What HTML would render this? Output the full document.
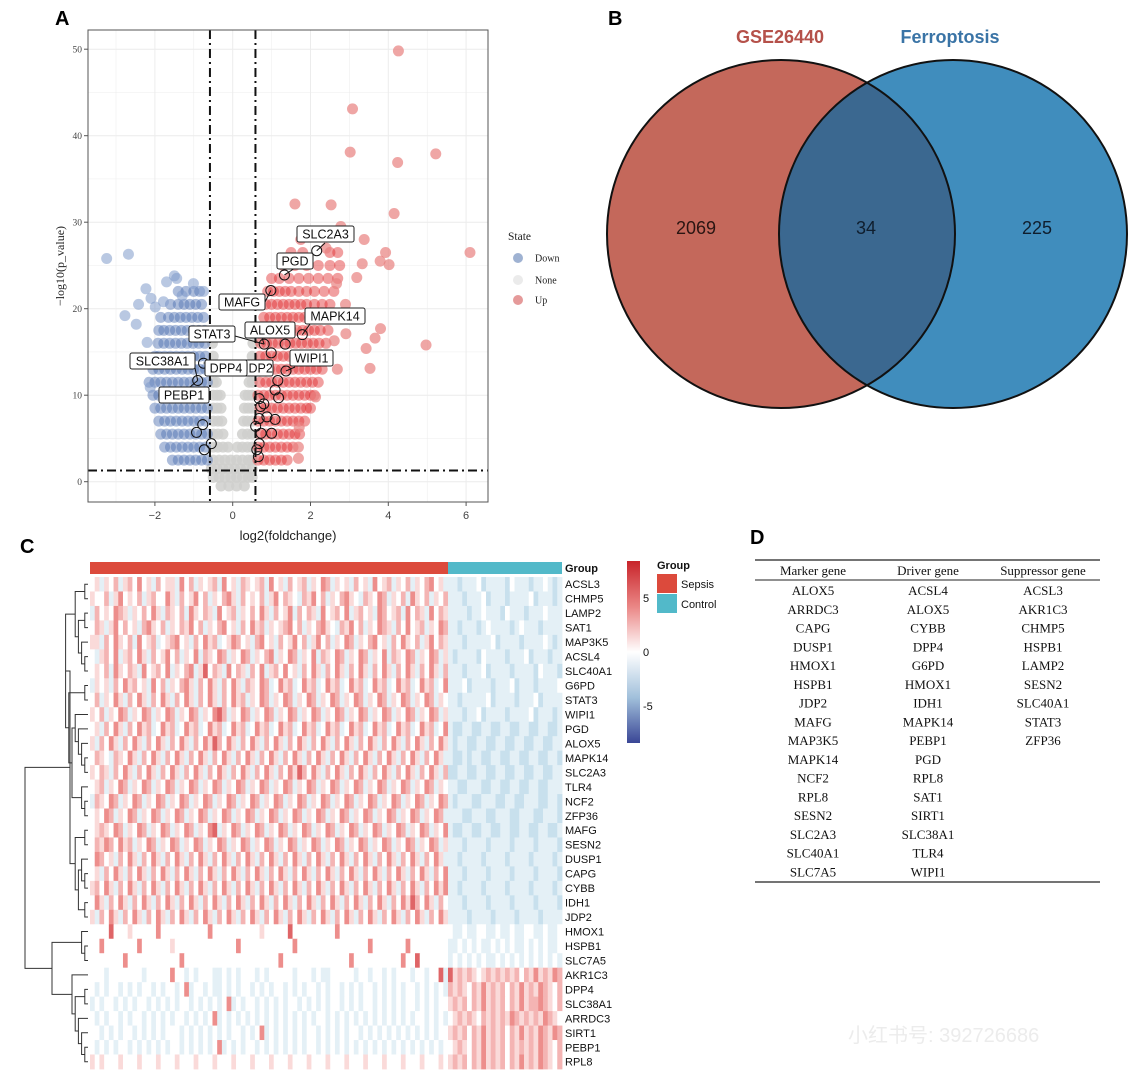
<!DOCTYPE html>
<html><head><meta charset="utf-8"><style>
html,body{margin:0;padding:0;background:#fff;}
svg{display:block;}
.sans{font-family:"Liberation Sans",Arial,sans-serif;}
.serif{font-family:"Liberation Serif","Times New Roman",serif;}
</style></head><body>
<svg id="fig" width="1130" height="1080" viewBox="0 0 1130 1080" xmlns="http://www.w3.org/2000/svg">
<rect width="1130" height="1080" fill="#fff"/>
<text x="55" y="25" class="sans" font-size="20" font-weight="bold">A</text>
<text x="608" y="25" class="sans" font-size="20" font-weight="bold">B</text>
<text x="20" y="553" class="sans" font-size="20" font-weight="bold">C</text>
<text x="750" y="544" class="sans" font-size="20" font-weight="bold">D</text>

<g id="volcano"></g>
<g id="venn">
  <circle cx="781" cy="234" r="174" fill="#c4685b"/>
  <circle cx="953" cy="234" r="174" fill="#408dbd"/>
  <clipPath id="clipL"><circle cx="781" cy="234" r="174"/></clipPath>
  <circle cx="953" cy="234" r="174" fill="#3b6890" clip-path="url(#clipL)"/>
  <circle cx="781" cy="234" r="174" fill="none" stroke="#111" stroke-width="2"/>
  <circle cx="953" cy="234" r="174" fill="none" stroke="#111" stroke-width="2"/>
  <text x="780" y="43" text-anchor="middle" class="sans" font-size="18" font-weight="bold" fill="#b5514a">GSE26440</text>
  <text x="950" y="43" text-anchor="middle" class="sans" font-size="18" font-weight="bold" fill="#3a74a6">Ferroptosis</text>
  <text x="696" y="234" text-anchor="middle" class="sans" font-size="18" fill="#2a1512">2069</text>
  <text x="866" y="234" text-anchor="middle" class="sans" font-size="18" fill="#0f1e2e">34</text>
  <text x="1037" y="234" text-anchor="middle" class="sans" font-size="18" fill="#0f1e2e">225</text>
</g>
<g id="heat"></g>
<g id="table"></g>
<text x="848" y="1042" class="sans" font-size="20" fill="#ececec">小红书号: 392726686</text>
</svg>
<script>
const NS="http://www.w3.org/2000/svg";
function mk(tag,attrs,parent,txt){const e=document.createElementNS(NS,tag);for(const k in attrs)e.setAttribute(k,attrs[k]);if(txt!==undefined)e.textContent=txt;parent.appendChild(e);return e;}

/* ---------------- Volcano data ---------------- */
const xTicks=[-2,0,2,4,6];
const yTicks=[0,10,20,30,40,50];
const upOutliers=[[4.26,49.8],[3.08,43.1],[3.02,38.1],[5.22,37.9],[4.24,36.9],[1.6,32.1],[2.53,32.0],[4.15,31.0],[2.78,29.5],[3.38,28.0],[6.1,26.5],[3.93,26.5],[3.79,25.5],[4.02,25.1],[3.33,25.2],[3.19,23.6],[2.67,22.9],[4.97,15.8],[3.53,13.1],[3.8,17.7],[3.66,16.6],[3.43,15.4],[2.91,17.1],[2.61,16.3],[2.69,13.0],[2.13,9.8],[1.69,4.0],[1.69,2.7],[1.71,6.3],[2.9,20.5],[3.1,19.0],[2.4,27.0],[2.2,28.5]];
const downOutliers=[[-3.24,25.8],[-2.68,26.3],[-2.77,19.2],[-2.48,18.2],[-2.42,20.5],[-2.23,22.3],[-2.2,16.1],[-2.12,10.9],[-1.44,23.5],[-1.5,23.8],[-1.01,22.9],[-0.75,22.0],[-1.7,23.1],[-1.99,20.2],[-1.78,20.8],[-2.1,21.2],[-1.3,21.5]];
const downRows=[[2.5,[-0.65,-0.8,-0.95,-1.1,-1.25,-1.4,-1.55]],[4,[-0.7,-0.85,-1.0,-1.15,-1.3,-1.45,-1.6,-1.75]],[5.5,[-0.65,-0.8,-0.95,-1.1,-1.25,-1.4,-1.55,-1.7,-1.85]],[7,[-0.7,-0.85,-1.0,-1.15,-1.3,-1.45,-1.6,-1.75,-1.9]],[8.5,[-0.65,-0.8,-0.95,-1.1,-1.25,-1.4,-1.55,-1.7,-1.85,-2.0]],[10,[-0.7,-0.85,-1.0,-1.15,-1.3,-1.45,-1.6,-1.75,-1.9,-2.05]],[11.5,[-0.65,-0.8,-0.95,-1.1,-1.25,-1.4,-1.55,-1.7,-1.85,-2.0,-2.15]],[13,[-0.7,-0.85,-1.0,-1.15,-1.3,-1.45,-1.6,-1.75,-1.9,-2.05]],[14.5,[-0.7,-0.85,-1.0,-1.15,-1.3,-1.45,-1.6,-1.75,-1.9,-2.0]],[16,[-0.72,-0.87,-1.02,-1.17,-1.32,-1.47,-1.62,-1.77,-1.92]],[17.5,[-0.72,-0.87,-1.02,-1.17,-1.32,-1.47,-1.62,-1.77,-1.9]],[19,[-0.75,-0.9,-1.05,-1.2,-1.35,-1.5,-1.65,-1.85]],[20.5,[-0.8,-0.95,-1.1,-1.25,-1.4,-1.6]],[22,[-0.85,-1.0,-1.2,-1.4]]];
const upRows=[[2.5,[0.65,0.8,0.95,1.1,1.25,1.4]],[4,[0.65,0.8,0.95,1.1,1.25,1.4,1.55]],[5.5,[0.7,0.85,1.0,1.15,1.3,1.45,1.6,1.72]],[7,[0.65,0.8,0.95,1.1,1.25,1.4,1.55,1.7,1.85]],[8.5,[0.7,0.85,1.0,1.15,1.3,1.45,1.6,1.75,1.9,2.0]],[10,[0.65,0.8,0.95,1.1,1.25,1.4,1.55,1.7,1.85,2.0,2.1]],[11.5,[0.7,0.85,1.0,1.15,1.3,1.45,1.6,1.75,1.9,2.05,2.2]],[13,[0.65,0.8,0.95,1.1,1.25,1.4,1.55,1.7,1.85,2.0,2.15,2.3]],[14.5,[0.7,0.85,1.0,1.15,1.3,1.45,1.6,1.75,1.9,2.05,2.2,2.35]],[16,[0.72,0.87,1.02,1.17,1.32,1.47,1.62,1.77,1.92,2.07,2.22,2.4]],[17.5,[0.75,0.9,1.05,1.2,1.35,1.5,1.65,1.8,1.95,2.1,2.25,2.45]],[19,[0.8,0.95,1.1,1.25,1.4,1.55,1.7,1.85,2.0,2.2,2.4]],[20.5,[0.85,1.0,1.15,1.3,1.45,1.6,1.75,1.9,2.1,2.3,2.5]],[22,[0.9,1.05,1.2,1.35,1.5,1.7,1.9,2.1,2.35,2.6]],[23.5,[1.0,1.2,1.45,1.7,1.95,2.2,2.45,2.7]],[25,[1.3,1.6,1.9,2.2,2.5,2.75]],[26.5,[1.5,1.8,2.5,2.7]],[28,[1.75]]];
const noneRows=[[-0.5,[-0.3,-0.1,0.1,0.3]],[0.5,[-0.5,-0.35,-0.2,-0.05,0.1,0.25,0.4,0.5]],[1.5,[-0.55,-0.4,-0.25,-0.1,0.05,0.2,0.35,0.5]],[2.5,[-0.5,-0.35,-0.2,-0.05,0.1,0.25,0.4,0.5]],[4,[-0.5,-0.38,-0.25,-0.12,0.12,0.25,0.38,0.5]],[5.5,[-0.5,-0.38,-0.25,0.25,0.38,0.5]],[7,[-0.5,-0.38,-0.28,0.28,0.38,0.5]],[8.5,[-0.5,-0.4,-0.3,0.3,0.4,0.5]],[10,[-0.5,-0.4,-0.32,0.32,0.4,0.5]],[11.5,[-0.5,-0.42,0.42,0.5]],[13,[-0.5,-0.43,0.43,0.5]],[14.5,[-0.5,0.5]],[16,[-0.52,0.52]]];
const highlighted=[[-0.75,13.7],[-0.9,11.7],[-0.77,6.6],[-0.93,5.7],[-0.73,3.7],[-0.55,4.4],[0.81,15.9],[1.35,15.9],[0.99,14.9],[1.37,12.8],[1.16,11.7],[1.09,10.6],[1.18,9.7],[0.68,9.6],[0.72,8.7],[0.8,9.0],[0.88,7.5],[1.09,7.2],[0.68,7.3],[0.59,6.4],[0.73,5.6],[1.0,5.6],[0.68,4.4],[0.62,3.7],[0.66,2.9],[0.98,22.1],[1.33,23.9],[2.16,26.7],[1.79,17.0]];
const fcCut=0.585, pCut=1.3;

const V=document.getElementById('volcano');
const X=v=>232.7+38.9*v, Y=v=>481.7-8.65*v;
const L=88,R=488,T=30,B=502;
mk('rect',{x:L,y:T,width:R-L,height:B-T,fill:'#fff'},V);
const grid=mk('g',{stroke:'#ececec','stroke-width':1},V);

[-3,-1,1,3,5].forEach(t=>mk('line',{x1:X(t),x2:X(t),y1:T,y2:B,'stroke-width':0.5},grid));
[5,15,25,35,45].forEach(t=>mk('line',{x1:L,x2:R,y1:Y(t),y2:Y(t),'stroke-width':0.5},grid));
xTicks.forEach(t=>mk('line',{x1:X(t),x2:X(t),y1:T,y2:B},grid));
yTicks.forEach(t=>mk('line',{x1:L,x2:R,y1:Y(t),y2:Y(t)},grid));
function drawPts(arr,col,op,name){const g=mk('g',{fill:col,'fill-opacity':op},V);arr.forEach(p=>{const c=mk('circle',{cx:X(p[0]),cy:Y(p[1]),r:5.5},g);});}
const flat=rows=>{const o=[];rows.forEach(r=>r[1].forEach(x=>o.push([x,r[0]])));return o;};
drawPts(flat(noneRows),'#cfcfcc',0.85,'none-points');
drawPts(flat(downRows),'#4a6db0',0.45,'down-points');
drawPts(downOutliers,'#7f9bcb',0.55,'down-outliers');
drawPts(flat(upRows),'#e02b2d',0.45,'up-points');
drawPts(upOutliers,'#e8807f',0.7,'up-outliers');
const hg=mk('g',{fill:'none',stroke:'#111','stroke-width':1},V);

highlighted.forEach(p=>{const c=mk('circle',{cx:X(p[0]),cy:Y(p[1]),r:5},hg);});
const th=mk('g',{stroke:'#111','stroke-width':2,'stroke-dasharray':'9 4 2 4'},V);

mk('line',{x1:X(-fcCut),x2:X(-fcCut),y1:T,y2:B},th);
mk('line',{x1:X(fcCut),x2:X(fcCut),y1:T,y2:B},th);
mk('line',{x1:L,x2:R,y1:Y(pCut),y2:Y(pCut)},th);
const labels=[["SLC2A3",297,226,57,[[325,243],[X(2.16),Y(26.7)]]],["PGD",277,253,36,[[295,268],[X(1.33),Y(23.9)]]],["MAFG",219,294,46,[[265,302],[X(0.98),Y(22.1)]]],["MAPK14",305,308,60,[[310,324],[X(1.79),Y(17.0)]]],["JDP2",242,360,31,null],["ALOX5",245,322,50,[[262,338],[X(0.81),Y(15.9)]]],["STAT3",189,326,46,[[235,336],[X(0.81),Y(15.9)]]],["WIPI1",290,350,43,[[295,367],[X(1.37),Y(12.8)]]],["DPP4",205,360,42,[[215,360],[X(-0.75),Y(13.7)]]],["SLC38A1",130,353,65,[[195,368],[X(-0.9),Y(11.7)]]],["PEBP1",159,387,50,[[190,387],[X(-0.9),Y(11.7)]]]];
labels.forEach(l=>{const g=mk('g',{},V);
 if(l[4])mk('line',{x1:l[4][0][0],y1:l[4][0][1],x2:l[4][1][0],y2:l[4][1][1],stroke:'#111','stroke-width':1},g);
 mk('rect',{x:l[1],y:l[2],width:l[3],height:16,rx:2,fill:'#fff',stroke:'#222','stroke-width':1},g);
 mk('text',{x:l[1]+l[3]/2,y:l[2]+12.5,'text-anchor':'middle','font-size':12.5,class:'sans',fill:'#111'},g,l[0]);});
mk('rect',{x:L,y:T,width:R-L,height:B-T,fill:'none',stroke:'#555','stroke-width':1},V);
xTicks.forEach(t=>{mk('line',{x1:X(t),x2:X(t),y1:B,y2:B+4,stroke:'#555'},V);const e=mk('text',{x:X(t),y:B+17,'text-anchor':'middle','font-size':11,class:'sans',fill:'#444'},V,String(t).replace('-','−'));});
yTicks.forEach(t=>{mk('line',{x1:L-4,x2:L,y1:Y(t),y2:Y(t),stroke:'#555'},V);const e=mk('text',{x:L-6,y:Y(t)+3.5,'text-anchor':'end','font-size':9.5,class:'serif',fill:'#444'},V,t);});
mk('text',{x:288,y:540,'text-anchor':'middle','font-size':13,class:'sans',fill:'#222',},V,'log2(foldchange)');
mk('text',{x:0,y:0,'text-anchor':'middle','font-size':12,class:'serif',fill:'#222',transform:'translate(64,266) rotate(-90)',},V,'−log10(p_value)');
const lg=mk('g',{},V);
mk('text',{x:508,y:240,'font-size':11.5,class:'serif',fill:'#222'},lg,'State');
[['Down','#9fb2d2',258],['None','#ebebeb',280],['Up','#e59a9a',300]].forEach(e=>{const g=mk('g',{},lg);mk('circle',{cx:518,cy:e[2],r:5,fill:e[1]},g);mk('text',{x:535,y:e[2]+3.5,'font-size':10,class:'serif',fill:'#222'},g,e[0]);});

/* ---------------- Heatmap data ---------------- */
const genes=["ACSL3","CHMP5","LAMP2","SAT1","MAP3K5","ACSL4","SLC40A1","G6PD","STAT3","WIPI1","PGD","ALOX5","MAPK14","SLC2A3","TLR4","NCF2","ZFP36","MAFG","SESN2","DUSP1","CAPG","CYBB","IDH1","JDP2","HMOX1","HSPB1","SLC7A5","AKR1C3","DPP4","SLC38A1","ARRDC3","SIRT1","PEBP1","RPL8"];
const sepsisVals=[
"4535463564745364553746354563745365456374536456354763545364537456354635467453",
"5446357454635644753645746354675364546357465436574635467543654763546375463546",
"3645476535464753654637546537456354647536457364653745647356453764563746537465",
"4653574645367546354657463546745364756354567463546754365746354765364745635476",
"5536475463745634567453647563457645367453645746357463547635467453647546357465",
"4356473564753645746354736547635476354673547635473654763547635473654763547635",
"4546375465374564735467358465374653647356474536475364753647536475364753647536",
"3545364756453746354675364753647536547634756347563475634756347563475634756347",
"4635475364753647536475364753647563547635476354763547635476354763547635476354",
"5463547635476354763547635478635476354763547635476354763547635476354763547635",
"4536475364756347563475634756347563475634756347563475634756347563475634756347",
"5364753647536475364753647586475364753647536475364753647536475364753647536475",
"4654365475364753647536475364753647536475364753647536475364753647536475364753",
"5465364753647536475364753647536475364753647586475364753647536475364753647536",
"4563547635476354763547635476354763547635476354763547635476354763547635476354",
"3654763547635476354763547635476354763547635476354763547635476354763547635476",
"4547635476354763547635476354763547635476354763547635476354763547635476354763",
"4565476354763547635476354783547635476354763547635476354763547635476354763547",
"4657647563547635476354763547635476354763547635476354763547635476354763547635",
"4764536475364753647536475364753647536475364753647536475364753647536475364753",
"4536475364753647536475364753647536475364753647536475364753647536475364753647",
"5647536475364753647536475364753647536475364753647536475364753647536475364757",
"4753647536475364753647536475364753647536475364753647536475364753647586475364",
"5364753647536475364753647536475364753647536475364753647536475364753647536475",
"4444844454444474444444444744444444445444448444444444744444444444444444444444",
"4474444444744444454444444444444744444444444744444444444444474444444744444444",
"4444444744444444444744444444444444444444744444444444444744444444447448444444",
"4443444444434444474434344433434344434344444344434334444434434434344434434483",
"4343443434344343443473443433434344343434434343443434434343443434343443434343",
"3434434343443434343443434343473434434343434434343434434343443434343443434344",
"4343443434434343434434343473434343434343434343434434343434343434343434434343",
"4434343443434343444343434343434434347343434343443434343443434343434343434344",
"4343434434343434344343434347343434434343434343443434343434343434343434343434",
"5454445444544454445444544454445444544454445444544454445444544454445444544454"];
const controlVals=[
"332333423333243332334323","333233342333233334233323","333323343332433323334333","332333234333323433323333",
"333233333423333233334323","323333243333233342333233","333233342333323333243332","333423333233342333233334",
"332333334233332333423333","333233423333233334233323","322332233223322332233223","323322332233223322332233",
"322323322332233223322332","223322332233223322332233","332233322332233223322333","323332233322332233322332",
"333223332233322333223332","322332233223322332233223","333233332333323333233332","332333323333233332333323",
"333233332333323333233332","332333323333233332333323","333233332333323333233332","333323333233332333323333",
"433433443343343344334334","334343433434343343434334","343434343343434343434343",
"856565456565656465756576","656546575656465756576546","565646575656465756676546","456565465656576565657654",
"565646575656465756576576","456546575656465656576546","565646575656465756576546"];
const groupNames=["Sepsis","Control"];
const colorTicks=[5,0,-5];

const H=document.getElementById('heat');
const hx0=90,hxs=448,hx1=562,hy0=577,rowH=14.47;
function col(v){
 const lerp=(a,b,t)=>a.map((x,i)=>Math.round(x+(b[i]-x)*t));
 let c;
 if(v>=0){const t=Math.min(v/7,1);c=t<0.5?lerp([255,255,255],[240,150,148],t*2):lerp([240,150,148],[200,36,42],(t-0.5)*2);}
 else{const t=Math.min(-v/7,1);c=t<0.5?lerp([255,255,255],[178,212,230],t*2):lerp([178,212,230],[58,70,150],(t-0.5)*2);}
 return 'rgb('+c.join(',')+')';}
const cells=mk('g',{},H);
genes.forEach((g,r)=>{[[sepsisVals[r],hx0,hxs],[controlVals[r],hxs,hx1]].forEach(seg=>{const s=seg[0],w=(seg[2]-seg[1])/s.length;for(let i=0;i<s.length;i++){const v=(s.charCodeAt(i)-52)*1.25;const c=mk('rect',{x:seg[1]+i*w,y:hy0+r*rowH,width:w+0.4,height:rowH+0.4,fill:col(v)},cells);}});
 const t=mk('text',{x:565,y:hy0+r*rowH+rowH/2+4,'font-size':11,class:'sans',fill:'#111'},H,g);});
mk('rect',{x:hx0,y:562,width:hxs-hx0,height:12,fill:'#dc4a3c',},H);
mk('rect',{x:hxs,y:562,width:hx1-hxs,height:12,fill:'#52b9c9',},H);
mk('text',{x:565,y:572,'font-size':11,'font-weight':'bold',class:'sans',fill:'#111'},H,'Group');
const defs=mk('defs',{},H);const gr=mk('linearGradient',{id:'cb',x1:0,y1:0,x2:0,y2:1},defs);
[[0,8],[0.25,4],[0.5,0],[0.75,-4],[1,-8]].forEach(s=>mk('stop',{offset:s[0],'stop-color':col(s[1])},gr));
mk('rect',{x:627,y:561,width:13,height:182,fill:'url(#cb)',},H);
const cbY=v=>652-v*10.8;
colorTicks.forEach(t=>{const e=mk('text',{x:643,y:cbY(t)+4,'font-size':11,class:'sans',fill:'#111'},H,String(t));});
mk('text',{x:657,y:569,'font-size':11,'font-weight':'bold',class:'sans',fill:'#111'},H,'Group');
[['#dc4a3c',574],['#52b9c9',594]].forEach((e,i)=>{const g=mk('g',{},H);mk('rect',{x:657,y:e[1],width:20,height:19,fill:e[0]},g);mk('text',{x:681,y:e[1]+14,'font-size':11,class:'sans',fill:'#111'},g,groupNames[i]);});
const tree=[[[[0,1],[[2,3],[4,[5,6]]]],[[7,8],[[9,[10,[11,[12,13]]]],[14,[15,16]]]]],[[17,18],[[19,[20,21]],[22,23]]]];
const treeB=[[24,[25,26]],[27,[[28,29],[30,[31,[32,33]]]]]];
const dg=mk('g',{stroke:'#333','stroke-width':1,fill:'none'},H);
function dn(n,forceX){if(typeof n==='number')return{y:hy0+n*rowH+rowH/2,x:88,h:0};
 const a=dn(n[0]),b=dn(n[1]);const h=Math.max(a.h,b.h)+1;const x=forceX!==undefined?forceX:88-h*3.2;
 mk('path',{d:`M${a.x},${a.y}H${x}V${b.y}H${b.x}`},dg);return{x,y:(a.y+b.y)/2,h};}
const A=dn(tree,70),Bn=dn(treeB,52);
mk('path',{d:`M${A.x},${A.y}H25V${Bn.y}H${Bn.x}`},dg);

/* ---------------- Table ---------------- */
const markerGenes=["ALOX5","ARRDC3","CAPG","DUSP1","HMOX1","HSPB1","JDP2","MAFG","MAP3K5","MAPK14","NCF2","RPL8","SESN2","SLC2A3","SLC40A1","SLC7A5"];
const driverGenes=["ACSL4","ALOX5","CYBB","DPP4","G6PD","HMOX1","IDH1","MAPK14","PEBP1","PGD","RPL8","SAT1","SIRT1","SLC38A1","TLR4","WIPI1"];
const suppressorGenes=["ACSL3","AKR1C3","CHMP5","HSPB1","LAMP2","SESN2","SLC40A1","STAT3","ZFP36"];
const TB=document.getElementById('table');
mk('line',{x1:755,x2:1100,y1:560,y2:560,stroke:'#222','stroke-width':1.3},TB);
mk('line',{x1:755,x2:1100,y1:580,y2:580,stroke:'#222','stroke-width':1},TB);
mk('line',{x1:755,x2:1100,y1:882,y2:882,stroke:'#222','stroke-width':1.3},TB);
[["Marker gene",813,markerGenes],["Driver gene",928,driverGenes],["Suppressor gene",1043,suppressorGenes]].forEach(c=>{
 const g=mk('g',{},TB);
 mk('text',{x:c[1],y:575,'text-anchor':'middle','font-size':13,class:'serif',fill:'#111'},g,c[0]);
 c[2].forEach((n,i)=>{const t=mk('text',{x:c[1],y:595+i*18.75,'text-anchor':'middle','font-size':13,class:'serif',fill:'#111'},g,n);});});
</script>
</body></html>
